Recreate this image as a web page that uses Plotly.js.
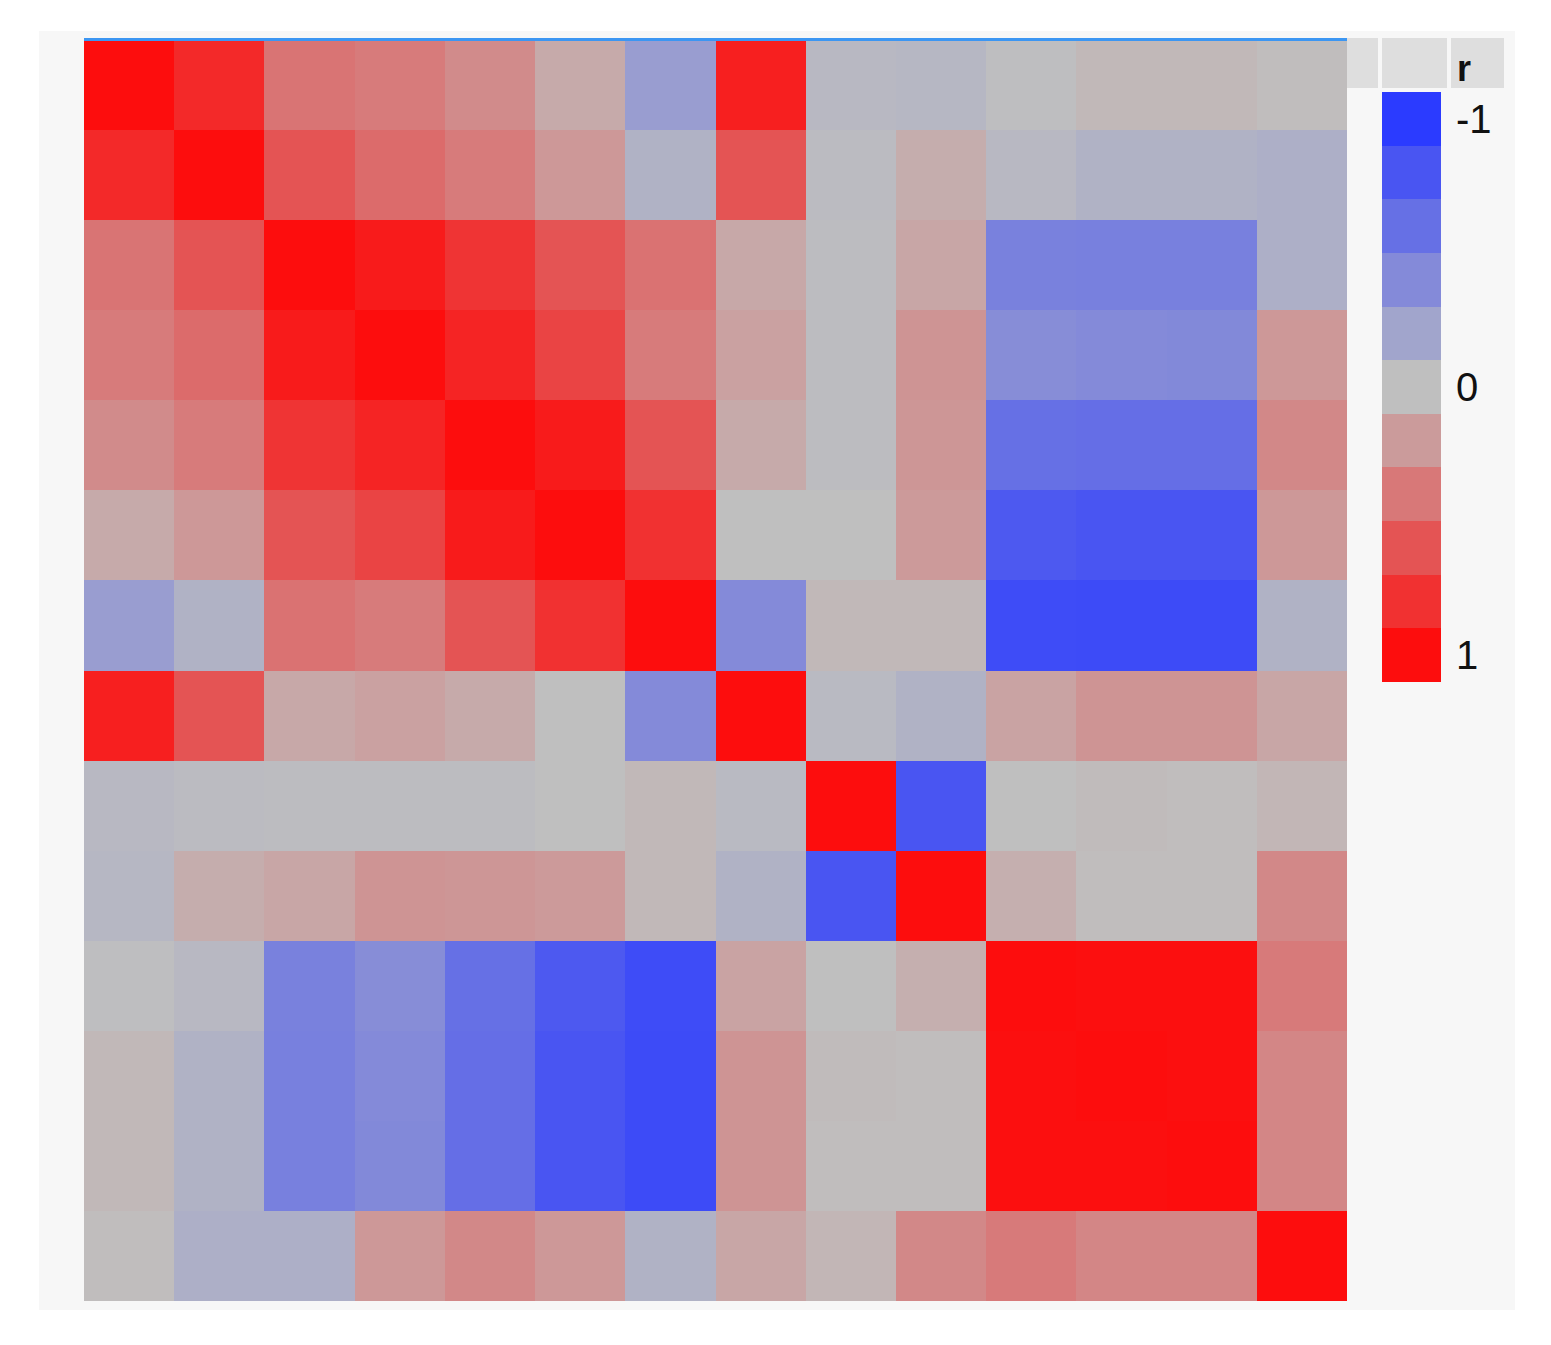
<!DOCTYPE html>
<html>
<head>
<meta charset="utf-8">
<script src="https://cdn.plot.ly/plotly-3.0.1.min.js"></script>
<style>
  html, body { margin: 0; padding: 0; background: #ffffff; }
  #chart { width: 1551px; height: 1345px; }
</style>
</head>
<body>
<div id="chart"></div>
<script>
// Variables (no labels are shown in the chart)
const variables = ['V1','V2','V3','V4','V5','V6','V7','V8','V9','V10','V11','V12','V13','V14'];

// Correlation matrix (row order top to bottom)
const corr = [
  [ 1.00,  0.84,  0.42,  0.38,  0.29,  0.12, -0.26,  0.90, -0.05, -0.06, -0.01,  0.04,  0.04,  0.01],
  [ 0.84,  1.00,  0.60,  0.47,  0.38,  0.22, -0.10,  0.60, -0.03,  0.10, -0.05, -0.10, -0.10, -0.12],
  [ 0.42,  0.60,  1.00,  0.92,  0.78,  0.60,  0.43,  0.13, -0.02,  0.14, -0.47, -0.48, -0.48, -0.12],
  [ 0.38,  0.47,  0.92,  1.00,  0.87,  0.69,  0.38,  0.17, -0.02,  0.24, -0.38, -0.40, -0.41,  0.22],
  [ 0.29,  0.38,  0.78,  0.87,  1.00,  0.92,  0.60,  0.12, -0.02,  0.23, -0.60, -0.61, -0.61,  0.31],
  [ 0.12,  0.22,  0.60,  0.69,  0.92,  1.00,  0.80,  0.00,  0.00,  0.21, -0.77, -0.80, -0.80,  0.22],
  [-0.26, -0.10,  0.43,  0.38,  0.60,  0.80,  1.00, -0.40,  0.04,  0.04, -0.87, -0.88, -0.88, -0.10],
  [ 0.90,  0.60,  0.13,  0.17,  0.12,  0.00, -0.40,  1.00, -0.04, -0.10,  0.16,  0.24,  0.24,  0.14],
  [-0.05, -0.03, -0.02, -0.02, -0.02,  0.00,  0.04, -0.04,  1.00, -0.80,  0.00,  0.02,  0.01,  0.05],
  [-0.06,  0.10,  0.14,  0.24,  0.23,  0.21,  0.04, -0.10, -0.80,  1.00,  0.09,  0.01,  0.01,  0.31],
  [-0.01, -0.05, -0.47, -0.38, -0.60, -0.77, -0.87,  0.16,  0.00,  0.09,  1.00,  0.99,  0.99,  0.39],
  [ 0.04, -0.10, -0.48, -0.40, -0.61, -0.80, -0.88,  0.24,  0.02,  0.01,  0.99,  1.00,  0.99,  0.32],
  [ 0.04, -0.10, -0.48, -0.41, -0.61, -0.80, -0.88,  0.24,  0.01,  0.01,  0.99,  0.99,  1.00,  0.32],
  [ 0.01, -0.12, -0.12,  0.22,  0.31,  0.22, -0.10,  0.14,  0.05,  0.31,  0.39,  0.32,  0.32,  1.00]
];

// Legend steps (discrete colour key)
const legendSteps = [-1, -0.8, -0.6, -0.4, -0.2, 0, 0.2, 0.4, 0.6, 0.8, 1];
const legendTickVals = [-1, 0, 1];
const legendTickText = ['-1', '0', '1'];
const legendTitle = 'r';

const colorscale = [
  [0, 'rgb(43,59,255)'],
  [0.5, 'rgb(191,191,191)'],
  [1, 'rgb(253,13,13)']
];

const W = 1551, H = 1345;
const px = x => x / W;
const py = y => 1 - y / H;
const FONT = 'Liberation Sans, Arial, sans-serif';

const traces = [
  {
    type: 'heatmap',
    x: variables,
    y: variables,
    z: corr,
    zmin: -1, zmax: 1,
    colorscale: colorscale,
    showscale: false,
    hoverinfo: 'skip',
    xaxis: 'x', yaxis: 'y'
  },
  {
    type: 'heatmap',
    x: [legendTitle],
    y: legendSteps,
    z: legendSteps.map(v => [v]),
    zmin: -1, zmax: 1,
    colorscale: colorscale,
    showscale: false,
    hoverinfo: 'skip',
    xaxis: 'x2', yaxis: 'y2'
  }
];

const layout = {
  width: W, height: H,
  margin: {l: 0, r: 0, t: 0, b: 0, pad: 0},
  paper_bgcolor: '#ffffff',
  plot_bgcolor: 'rgba(0,0,0,0)',
  font: {family: FONT, color: '#000000', size: 40},
  showlegend: false,
  xaxis: {
    domain: [px(84), px(1347)],
    showticklabels: false, showgrid: false, zeroline: false, showline: false, ticks: '',
    fixedrange: true
  },
  yaxis: {
    domain: [py(1301), py(40)],
    autorange: 'reversed',
    showticklabels: false, showgrid: false, zeroline: false, showline: false, ticks: '',
    fixedrange: true
  },
  xaxis2: {
    domain: [px(1382), px(1441)],
    anchor: 'y2',
    showticklabels: false, showgrid: false, zeroline: false, showline: false, ticks: '',
    fixedrange: true
  },
  yaxis2: {
    domain: [py(682), py(92)],
    anchor: 'x2',
    side: 'right',
    autorange: 'reversed',
    tickmode: 'array',
    tickvals: legendTickVals,
    ticktext: legendTickText,
    ticks: '',
    ticklabelstandoff: 14,
    tickfont: {size: 40, color: '#111111', family: FONT},
    showgrid: false, zeroline: false, showline: false,
    fixedrange: true
  },
  shapes: [
    {type: 'rect', xref: 'paper', yref: 'paper', layer: 'below',
     x0: px(39), x1: px(1515), y0: py(1310), y1: py(31),
     fillcolor: '#f7f7f7', line: {width: 0}},
    {type: 'rect', xref: 'paper', yref: 'paper', layer: 'below',
     x0: px(1347), x1: px(1378), y0: py(88), y1: py(38),
     fillcolor: '#dedede', line: {width: 0}},
    {type: 'rect', xref: 'paper', yref: 'paper', layer: 'below',
     x0: px(1382), x1: px(1447), y0: py(88), y1: py(38),
     fillcolor: '#dedede', line: {width: 0}},
    {type: 'rect', xref: 'paper', yref: 'paper', layer: 'below',
     x0: px(1451), x1: px(1504), y0: py(88), y1: py(38),
     fillcolor: '#dedede', line: {width: 0}},
    {type: 'rect', xref: 'paper', yref: 'paper', layer: 'above',
     x0: px(84), x1: px(1347), y0: py(41), y1: py(38),
     fillcolor: '#3c96f2', line: {width: 0}}
  ],
  annotations: [
    {text: '<b>' + legendTitle + '</b>', xref: 'paper', yref: 'paper',
     x: px(1455), y: py(68), xanchor: 'left', yanchor: 'middle',
     showarrow: false, font: {size: 36, color: '#111111', family: FONT}}
  ]
};

Plotly.newPlot('chart', traces, layout, {displayModeBar: false, staticPlot: true});
</script>
</body>
</html>
